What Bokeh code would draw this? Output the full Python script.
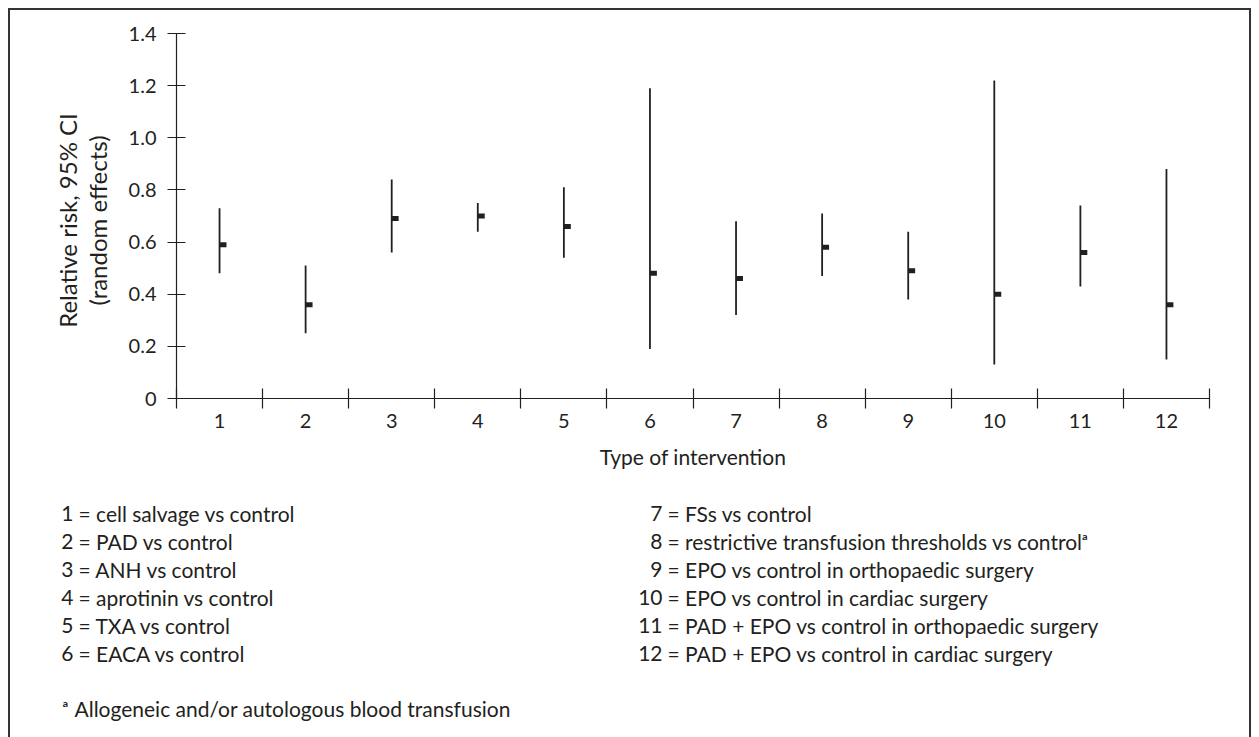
from bokeh.plotting import figure
from bokeh.models import Range1d, FixedTicker, ColumnDataSource, PrintfTickFormatter
from bokeh.core.properties import value
from bokeh.transform import dodge
from bokeh.layouts import column, row
from bokeh.embed import file_html
from bokeh.resources import INLINE
import math

# ---- data ----
categories = [1, 2, 3, 4, 5, 6, 7, 8, 9, 10, 11, 12]
rr = [0.59, 0.36, 0.69, 0.70, 0.66, 0.48, 0.46, 0.58, 0.49, 0.40, 0.56, 0.36]
ci_low = [0.48, 0.25, 0.56, 0.64, 0.54, 0.19, 0.32, 0.47, 0.38, 0.13, 0.43, 0.15]
ci_high = [0.73, 0.51, 0.84, 0.75, 0.81, 1.19, 0.68, 0.71, 0.64, 1.22, 0.74, 0.88]
y_ticks = [0, 0.2, 0.4, 0.6, 0.8, 1.0, 1.2, 1.4]
bin_edges = [0.5, 1.5, 2.5, 3.5, 4.5, 5.5, 6.5, 7.5, 8.5, 9.5, 10.5, 11.5, 12.5]

legend_left_nums = ["1", "2", "3", "4", "5", "6"]
legend_left_texts = ["= cell salvage vs control", "= PAD vs control", "= ANH vs control",
                     "= aprotinin vs control", "= TXA vs control", "= EACA vs control"]
legend_right_nums = ["7", "8", "9", "10", "11", "12"]
legend_right_texts = ["= FSs vs control", "= restrictive transfusion thresholds vs control\u1d43",
                      "= EPO vs control in orthopaedic surgery", "= EPO vs control in cardiac surgery",
                      "= PAD + EPO vs control in orthopaedic surgery", "= PAD + EPO vs control in cardiac surgery"]
footnote_mark = "\u1d43"
footnote = "Allogeneic and/or autologous blood transfusion"
y_label_lines = ["Relative risk, 95% CI", "(random effects)"]
x_label = "Type of intervention"

FONT = "Lato"
INK = "#231f20"
FS = "21px"
YFS = "24px"
TFS = "20px"

W, H = 1259, 737
OX, OY = 10, 10            # content origin inside the css box (page px)
CW = 1239                  # content width
MID_B = 490                # bottom of chart row (page y)
L_R = 120                  # right edge of y-label strip (page x)
FL, FR, FT, FB = 176, 1209, 33, 398   # chart frame in page px


def strip(x0, x1, y0, y1, top=0, bottom=0):
    f = figure(width=x1 - x0, height=(y1 - y0) + top + bottom, output_backend="svg",
               toolbar_location=None,
               x_range=Range1d(x0, x1), y_range=Range1d(-y1, -y0),
               x_axis_location=None, y_axis_location=None,
               min_border=0, min_border_top=top, min_border_bottom=bottom)
    f.outline_line_color = None
    f.xgrid.visible = False
    f.ygrid.visible = False
    f.background_fill_color = "white"
    f.border_fill_color = "white"
    return f


# left strip: y label (its frame is aligned with the chart frame)
L = strip(OX, L_R, FT, FB, top=FT - OY, bottom=MID_B - FB)
L.text(x=[67, 97], y=[-220, -220], text=y_label_lines, angle=math.pi / 2,
       text_align="center", text_baseline="middle", text_font=value(FONT),
       text_font_size=YFS, text_color=INK)

# main chart
p = figure(width=OX + CW - L_R, height=MID_B - OY, output_backend="svg", toolbar_location=None,
           x_range=Range1d(0.5, 12.5), y_range=Range1d(0, 1.4),
           min_border_left=FL - L_R, min_border_right=(OX + CW) - FR,
           min_border_top=FT - OY, min_border_bottom=MID_B - FB)
p.outline_line_color = None
p.xgrid.visible = False
p.ygrid.visible = False
p.background_fill_color = "white"
p.border_fill_color = "white"

src = ColumnDataSource(dict(x=categories, rr=rr, lo=ci_low, hi=ci_high))
p.segment(x0="x", y0="lo", x1="x", y1="hi", source=src, line_color=INK, line_width=1.8)
p.rect(x=dodge("x", 0.04, range=p.x_range), y="rr", width=7, height=5,
       width_units="screen", height_units="screen", source=src,
       fill_color=INK, line_color=None)

xa = p.xaxis[0]
xa.ticker = FixedTicker(ticks=categories, minor_ticks=bin_edges)
xa.major_tick_in = 0
xa.major_tick_out = 0
xa.minor_tick_in = 10
xa.minor_tick_out = 10
xa.minor_tick_line_color = INK
xa.minor_tick_line_width = 1.2
xa.axis_line_color = INK
xa.axis_line_width = 1.2
xa.major_label_text_font = FONT
xa.major_label_text_font_size = TFS
xa.major_label_text_color = INK
xa.major_label_standoff = 5
xa.axis_label = x_label
xa.axis_label_text_font = FONT
xa.axis_label_text_font_size = FS
xa.axis_label_text_font_style = "normal"
xa.axis_label_text_color = INK
xa.axis_label_standoff = 13

ya = p.yaxis[0]
ya.ticker = FixedTicker(ticks=y_ticks, minor_ticks=[])
ya.formatter = PrintfTickFormatter(format="%.1f")
ya.major_label_overrides = {0: "0"}
ya.major_tick_in = 9
ya.major_tick_out = 9
ya.major_tick_line_color = INK
ya.major_tick_line_width = 1.2
ya.axis_line_color = INK
ya.axis_line_width = 1.2
ya.major_label_text_font = FONT
ya.major_label_text_font_size = TFS
ya.major_label_text_color = INK
ya.major_label_standoff = 11

# bottom strip: legend and footnote
Q = strip(OX, OX + CW, MID_B, 750)
row_y = [-(513 + 28 * i) for i in range(6)]
Q.text(x=[73] * 6, y=row_y, text=legend_left_nums, text_align="right", text_baseline="middle",
       text_font=value(FONT), text_font_size=FS, text_color=INK)
Q.text(x=[78] * 6, y=row_y, text=legend_left_texts, text_align="left", text_baseline="middle",
       text_font=value(FONT), text_font_size=FS, text_color=INK)
Q.text(x=[662] * 6, y=row_y, text=legend_right_nums, text_align="right", text_baseline="middle",
       text_font=value(FONT), text_font_size=FS, text_color=INK)
Q.text(x=[667] * 6, y=row_y, text=legend_right_texts, text_align="left", text_baseline="middle",
       text_font=value(FONT), text_font_size=FS, text_color=INK)
Q.text(x=[62], y=[-708], text=[footnote_mark], text_align="left", text_baseline="middle",
       text_font=value(FONT), text_font_size=FS, text_color=INK)
Q.text(x=[74], y=[-708], text=[footnote], text_align="left", text_baseline="middle",
       text_font=value(FONT), text_font_size=FS, text_color=INK)

layout = column(row(L, p), Q,
                styles={"border-left": "2px solid #333333", "border-top": "2px solid #333333",
                        "border-right": "2px solid #333333", "margin-left": "8px", "margin-top": "8px"})
open("out.html", "w").write(file_html(layout, INLINE))
